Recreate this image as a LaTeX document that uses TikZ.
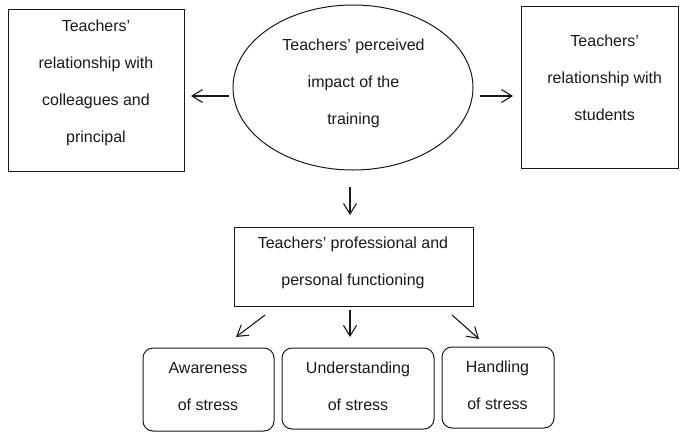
\documentclass[tikz,border=0pt]{standalone}
\usepackage{fontspec}
\setmainfont{Liberation Sans}
\usetikzlibrary{shapes.geometric,arrows.meta,calc}
\begin{document}
\begin{tikzpicture}[x=1pt,y=-1pt,
  every node/.style={inner sep=0pt,outer sep=0pt},
  shapebox/.style={draw=black!90,line width=1pt,rectangle},
  roundbox/.style={draw=black!90,line width=1pt,rectangle,rounded corners=10pt},
  ovalbox/.style={draw=black!90,line width=1pt,ellipse},
  label text/.style={anchor=base,align=center,text=black!90,font=\fontsize{16}{36.8}\selectfont},
  arr/.style={draw=black!90,line width=1.1pt,-{Straight Barb[length=10.5pt,width=13pt,line width=1.1pt]}}]
\useasboundingbox (0,0) rectangle (680,432);
% shapes
\node[shapebox,minimum width=176pt,minimum height=162pt] (lbox) at (96,90) {};
\node[ovalbox,minimum width=240pt,minimum height=165pt] (ell) at (353,87.5) {};
\node[shapebox,minimum width=157pt,minimum height=162pt] (rbox) at (599.5,87) {};
\node[shapebox,minimum width=239pt,minimum height=79pt] (mbox) at (353.5,266.5) {};
\node[roundbox,minimum width=131pt,minimum height=83pt] (b1) at (208.5,389.5) {};
\node[roundbox,minimum width=152pt,minimum height=81pt] (b2) at (358,388.5) {};
\node[roundbox,minimum width=112pt,minimum height=81pt] (b3) at (498,387.5) {};
% texts (anchor base = baseline of last line)
\node[label text] (lboxtext) at (96,142) {Teachers'\\relationship with\\colleagues and\\principal};
\node[label text] (elltext) at (353.5,124.5) {Teachers' perceived\\impact of the\\training};
\node[label text] (rboxtext) at (604.7,120.5) {Teachers'\\relationship with\\students};
\node[label text] (mboxtext) at (353,285) {Teachers' professional and\\personal functioning};
\node[label text] (b1text) at (208,410) {Awareness\\of stress};
\node[label text] (b2text) at (358,410) {Understanding\\of stress};
\node[label text] (b3text) at (497.5,409) {Handling\\of stress};
% connectors
\draw[arr] ($(ell.west)+(-4,8.5)$) -- ($(lbox.east)+(7,6)$);
\draw[arr] ($(ell.east)+(7,8.5)$) -- ($(rbox.west)+(-8,9)$);
\draw[arr] ($(ell.south)+(-3,17)$) -- ($(mbox.north)+(-3.5,-12)$);
\draw[arr] ($(mbox.south)+(-88.5,9)$) -- ($(b1.north)+(27.5,-11)$);
\draw[arr] ($(mbox.south)+(-3.5,4)$) -- ($(b2.north)+(-8,-11)$);
\draw[arr] ($(mbox.south)+(98.5,9)$) -- ($(b3.north)+(-19,-8)$);
\end{tikzpicture}
\end{document}
